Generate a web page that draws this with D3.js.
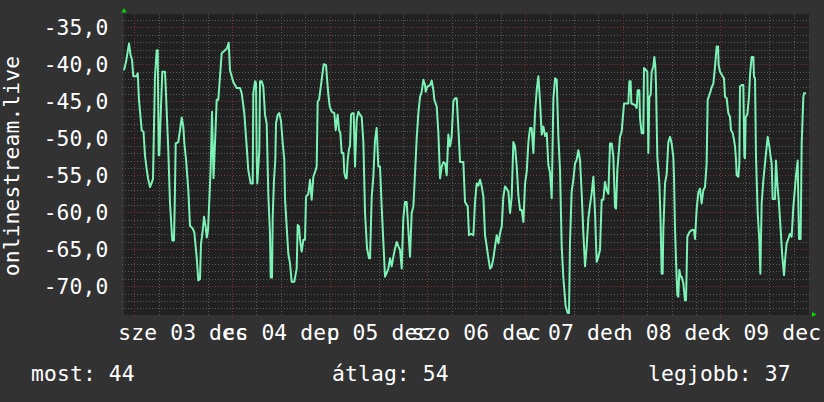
<!DOCTYPE html>
<html>
<head>
<meta charset="utf-8">
<script src="https://cdn.jsdelivr.net/npm/d3@7"></script>
<style>
  html, body { margin: 0; padding: 0; background: #323232; }
  svg { display: block; }
  text { font-family: "DejaVu Sans Mono", monospace; fill: #ffffff; font-size: 21.3px; letter-spacing: 0.15px; }
</style>
</head>
<body>
<svg id="chart" width="824" height="402"></svg>
<script>
// Samples: hours after 3 Dec 2025 00:00 and the measured level
const hours = [
  -2.53,-2.04,-1.30,-0.93,-0.56,-0.25,0.59,0.84,1.15,1.82,2.26,2.63,3.00,3.37,3.86,4.35,4.59,5.08,5.50,5.75,
  5.99,6.14,6.56,6.88,7.54,7.71,8.35,8.77,9.33,9.75,9.92,10.17,10.81,11.23,11.64,12.04,12.28,12.70,13.27,13.68,
  14.35,14.74,15.33,15.72,16.14,16.38,16.80,17.12,17.54,17.79,18.10,18.42,18.77,19.09,19.46,19.95,20.24,20.63,21.05,21.47,
  22.28,22.70,23.19,23.51,24.32,25.15,25.97,26.38,27.02,27.61,28.00,28.59,29.09,29.23,29.65,29.90,30.07,30.21,30.71,30.88,
  31.30,31.69,32.11,32.52,32.92,33.33,33.51,33.83,34.00,34.32,34.64,34.81,35.23,35.62,36.04,36.45,36.85,37.02,37.44,37.83,
  38.25,38.67,39.30,39.89,40.14,40.46,40.71,41.12,41.53,41.94,42.18,42.76,43.16,43.57,43.98,44.56,44.80,45.05,45.38,45.70,
  46.03,46.52,47.10,47.34,47.67,48.00,48.49,49.14,49.47,49.96,50.29,50.62,50.95,51.36,51.60,51.93,52.17,52.42,52.75,52.99,
  53.24,53.56,53.89,54.22,54.63,55.04,55.45,55.86,56.27,56.68,57.17,57.66,57.91,58.32,58.72,59.13,59.54,59.95,60.36,60.77,
  61.18,61.59,62.00,62.41,62.82,63.23,63.64,64.05,64.46,64.87,65.28,65.69,66.09,66.50,66.91,67.32,67.73,68.14,68.55,68.96,
  69.37,69.78,70.19,70.60,71.01,71.42,71.58,71.99,72.65,73.06,73.47,73.71,74.29,74.70,75.11,75.52,75.93,76.34,76.74,77.15,
  77.56,77.97,78.38,78.79,79.20,79.61,80.02,80.83,81.24,81.90,82.22,82.72,83.29,83.70,84.11,84.52,84.93,85.34,85.75,86.16,
  86.57,86.98,87.39,87.80,88.21,88.62,89.03,89.44,89.85,90.26,90.66,91.07,91.48,91.89,92.30,92.71,93.12,93.53,93.94,94.35,
  94.76,95.17,95.58,95.99,96.40,96.81,97.22,97.62,98.03,98.44,98.85,99.26,99.67,100.08,100.49,100.90,101.31,101.72,102.13,102.54,
  102.95,103.36,103.77,104.17,104.58,104.99,105.40,105.97,106.46,106.79,107.03,107.44,107.85,108.26,108.67,109.08,109.49,109.90,110.31,110.72,
  111.13,111.54,111.95,112.36,112.77,113.18,113.58,113.99,114.40,114.81,115.22,115.63,116.04,116.45,116.86,117.27,117.68,118.08,118.33,118.66,
  119.31,119.72,120.30,121.36,121.61,121.93,122.10,123.00,123.41,123.65,124.06,124.23,124.64,125.04,125.21,125.70,126.03,126.27,126.52,126.85,
  127.09,127.50,127.75,127.99,128.16,128.48,128.98,129.30,129.55,129.79,129.96,130.37,130.78,131.19,131.60,132.00,132.41,132.58,132.82,133.07,
  133.40,133.64,133.89,134.22,134.46,134.87,135.28,135.53,135.85,136.34,136.92,137.49,137.74,138.15,138.56,138.96,139.37,139.78,140.19,140.60,
  140.85,141.42,141.83,142.24,142.65,143.06,143.39,143.55,143.88,144.53,144.86,145.11,145.52,145.92,146.33,146.58,146.99,147.32,147.56,147.81,
  147.97,148.38,148.63,148.79,149.20,149.61,149.86,150.02,150.18,150.59,151.00,151.25,151.66,152.07,152.23,152.48,152.72,153.13,153.54,153.79,
  154.11,154.52,154.93,155.18,155.59,156.00,156.32,156.57,156.82,157.39,157.63,157.96,158.37,158.78,159.19,159.60,159.93,160.25,160.66,161.07,
  161.48,161.89,162.55,162.96,163.28,163.69,163.94,164.35,164.51,165.00
];
const values = [
  -40.8,-39.7,-37.2,-38.7,-39.4,-41.6,-41.6,-41.2,-44.8,-48.9,-49.1,-52.3,-54.0,-55.4,-56.6,-55.9,-55.5,-41.7,-38.1,-38.1,
  -52.3,-52.3,-45.7,-41.0,-41.0,-43.0,-51.6,-58.8,-63.8,-63.8,-59.3,-50.7,-50.5,-48.9,-47.2,-48.4,-50.6,-52.8,-57.0,-61.8,
  -62.2,-62.7,-66.1,-69.2,-69.0,-64.3,-62.5,-60.6,-62.0,-63.4,-62.5,-58.5,-54.0,-46.4,-55.4,-49.0,-44.8,-44.8,-41.7,-38.5,
  -38.1,-37.9,-37.1,-40.8,-42.4,-43.2,-43.2,-43.9,-46.6,-51.1,-54.3,-56.1,-56.1,-43.9,-42.3,-42.5,-52.9,-56.1,-51.6,-42.3,
  -42.3,-43.0,-46.8,-48.0,-57.5,-62.9,-68.8,-68.8,-60.6,-55.6,-52.9,-48.0,-46.8,-46.6,-47.7,-50.6,-52.9,-58.2,-62.0,-65.6,
  -66.9,-69.4,-69.4,-67.6,-61.7,-61.9,-63.7,-65.3,-63.7,-63.7,-57.9,-57.5,-55.6,-58.3,-55.2,-54.3,-53.8,-45.0,-44.8,-43.5,
  -42.1,-40.0,-40.1,-41.9,-44.1,-45.7,-46.4,-46.6,-48.9,-46.8,-48.9,-49.3,-52.0,-52.0,-54.7,-55.4,-55.4,-52.9,-51.4,-51.1,
  -46.8,-46.6,-46.6,-53.8,-47.5,-46.4,-46.8,-47.1,-50.5,-60.1,-64.9,-66.2,-66.2,-57.9,-55.2,-50.2,-48.6,-53.8,-53.8,-59.2,
  -64.0,-68.7,-68.2,-67.6,-66.2,-67.3,-66.0,-64.9,-64.0,-64.6,-65.1,-67.6,-60.8,-58.6,-58.6,-62.4,-66.0,-60.1,-59.2,-54.7,
  -50.0,-46.6,-44.4,-43.7,-42.1,-42.8,-43.7,-43.0,-42.8,-42.2,-43.5,-44.8,-45.7,-49.3,-55.4,-53.8,-53.2,-53.4,-55.0,-49.5,
  -51.1,-49.7,-45.0,-44.6,-44.6,-48.6,-53.2,-53.2,-58.6,-59.2,-63.1,-62.9,-63.1,-58.6,-56.1,-56.4,-55.6,-56.5,-57.9,-63.1,
  -64.6,-66.2,-67.6,-67.3,-66.2,-64.6,-63.1,-64.2,-62.8,-61.9,-57.9,-56.5,-56.8,-57.2,-60.1,-57.9,-50.5,-51.1,-53.8,-57.7,
  -59.7,-59.7,-61.3,-56.1,-54.5,-50.5,-48.6,-48.6,-52.0,-46.6,-43.5,-41.6,-45.0,-49.5,-48.4,-49.7,-49.3,-53.6,-54.7,-58.1,
  -44.6,-41.9,-42.1,-49.7,-54.3,-64.6,-68.9,-72.7,-73.6,-73.6,-64.0,-57.2,-55.6,-53.4,-52.9,-51.6,-52.9,-57.4,-62.8,-67.3,
  -64.6,-60.8,-59.0,-57.4,-55.2,-60.1,-66.7,-66.0,-65.1,-58.3,-58.3,-55.9,-57.0,-57.5,-50.7,-50.7,-52.5,-59.3,-59.5,-54.3,
  -49.8,-49.1,-45.3,-45.3,-42.3,-42.3,-45.3,-45.5,-45.9,-43.5,-43.5,-47.3,-49.3,-49.3,-40.5,-40.8,-41.0,-52.0,-44.4,-44.1,
  -41.0,-40.3,-39.0,-40.3,-42.8,-52.5,-56.1,-61.5,-68.3,-68.3,-62.4,-56.1,-54.8,-50.5,-49.8,-50.7,-52.5,-55.2,-62.0,-66.5,
  -71.2,-71.4,-67.8,-68.7,-68.7,-69.6,-71.9,-71.9,-63.3,-62.7,-62.4,-62.4,-63.6,-59.5,-57.3,-56.8,-58.8,-57.0,-56.6,-53.4,
  -44.8,-43.9,-43.1,-42.6,-40.3,-37.6,-37.6,-40.1,-41.0,-41.6,-41.9,-44.4,-44.6,-46.6,-47.1,-48.9,-49.3,-50.2,-51.1,-52.9,
  -55.0,-55.2,-53.4,-43.0,-42.8,-42.8,-52.5,-52.7,-47.1,-46.8,-44.4,-41.4,-39.0,-39.0,-41.7,-41.9,-52.5,-60.0,-63.8,-68.3,
  -58.8,-55.7,-53.4,-52.0,-49.8,-51.1,-52.5,-53.4,-58.2,-58.2,-53.0,-56.1,-58.8,-62.4,-66.0,-68.5,-66.0,-64.2,-63.6,-62.9,
  -63.3,-59.3,-55.0,-53.0,-63.6,-63.6,-50.7,-44.4,-43.9,-43.9
];

// Footer statistics (current, average, best), shown as magnitudes
const summaryNames = ["most", "átlag", "legjobb"];
const averageValue = -54;

// Hungarian calendar names used for the time labels
const dayNames = ["vasárnap", "hétfő", "kedd", "szerda", "csütörtök", "péntek", "szombat"];
const dayAbbr = ["v", "h", "k", "sze", "cs", "p", "szo"];
const monthNames = ["január", "február", "március", "április", "május", "június", "július", "augusztus", "szeptember", "október", "november", "december"];
const monthAbbr = ["jan", "febr", "márc", "ápr", "máj", "jún", "júl", "aug", "szept", "okt", "nov", "dec"];

const yTitle = "onlinestream.live";
const yDomain = [-73.88, -33.2];
const hourDomain = [-2.53, 165.74];

const t0 = Date.UTC(2025, 11, 3);
const toDate = h => new Date(t0 + h * 3600e3);
const data = hours.map((h, i) => ({ t: toDate(h), v: values[i] }));

const huTime = d3.timeFormatLocale({
  dateTime: "%Y. %B %-e., %A %X", date: "%Y. %m. %d.", time: "%H:%M:%S", periods: ["de.", "du."],
  days: dayNames, shortDays: dayAbbr, months: monthNames, shortMonths: monthAbbr
});
const huNum = d3.formatLocale({ decimal: ",", thousands: " ", grouping: [3], currency: ["", " Ft"], minus: "-" });
const fmtY = huNum.format(".1f");
const fmtX = huTime.utcFormat("%a %d %b");

const plot = { left: 124, top: 14, right: 809, bottom: 315 };
const svg = d3.select("#chart");

svg.append("rect").attr("width", 824).attr("height", 402).attr("fill", "#323232");
svg.append("rect")
  .attr("x", plot.left).attr("y", plot.top)
  .attr("width", plot.right - plot.left).attr("height", plot.bottom - plot.top)
  .attr("fill", "#212121");

const x = d3.scaleUtc().domain(hourDomain.map(toDate)).range([plot.left, plot.right]);
const y = d3.scaleLinear().domain(yDomain).range([plot.bottom, plot.top]);

const minorCol = "#5a5a5a", majorCol = "#7a3434";
const grid = svg.append("g").attr("shape-rendering", "crispEdges");

// horizontal grid: every unit, stronger every 5
const yMinor = d3.range(Math.ceil(yDomain[0]), Math.floor(yDomain[1]) + 1);
grid.selectAll("line.hy").data(yMinor).join("line")
  .attr("x1", plot.left - 2).attr("x2", plot.right + 2)
  .attr("y1", d => Math.round(y(d)) + 0.5).attr("y2", d => Math.round(y(d)) + 0.5)
  .attr("stroke", d => d % 5 === 0 ? majorCol : minorCol)
  .attr("stroke-width", 1).attr("stroke-dasharray", "1,2");

// vertical grid: every 6 hours, stronger at midnight
const xMinor = d3.utcHour.every(6).range(x.domain()[0], x.domain()[1]);
grid.selectAll("line.vx").data(xMinor).join("line")
  .attr("x1", d => Math.round(x(d)) + 0.5).attr("x2", d => Math.round(x(d)) + 0.5)
  .attr("y1", plot.top).attr("y2", d => plot.bottom + (d.getUTCHours() === 0 ? 3 : 2))
  .attr("stroke", d => d.getUTCHours() === 0 ? majorCol : minorCol)
  .attr("stroke-width", 1).attr("stroke-dasharray", "1,2");

// y tick labels
const yMajor = yMinor.filter(d => d % 5 === 0);
svg.selectAll("text.ylab").data(yMajor).join("text")
  .attr("x", 108.5).attr("y", d => y(d) + 7.6)
  .attr("text-anchor", "end")
  .text(d => fmtY(d));

// x labels centred on noon of each day
const noons = d3.utcDay.range(x.domain()[0], x.domain()[1])
  .map(d => d3.utcHour.offset(d, 12))
  .filter(d => d >= x.domain()[0] && d <= x.domain()[1]);
svg.selectAll("text.xlab").data(noons).join("text")
  .attr("x", d => x(d)).attr("y", 340)
  .attr("text-anchor", "middle")
  .text(d => fmtX(d));

// axis title
svg.append("text")
  .attr("transform", "translate(19,166) rotate(-90)")
  .attr("text-anchor", "middle")
  .text(yTitle);

// series line
svg.append("path")
  .datum(data)
  .attr("fill", "none")
  .attr("stroke", "#7cf2b6")
  .attr("stroke-width", 2)
  .attr("stroke-linejoin", "round")
  .attr("d", d3.line().x(d => x(d.t)).y(d => y(d.v)));

// axis arrows
const arrowCol = "#00dd00";
svg.append("path").attr("fill", arrowCol)
  .attr("d", `M${plot.left - 2.5},${plot.top - 1.5}L${plot.left + 2.5},${plot.top - 1.5}L${plot.left},${plot.top - 6}Z`);
svg.append("path").attr("fill", arrowCol)
  .attr("d", `M${plot.right + 3},${plot.bottom - 3}L${plot.right + 3},${plot.bottom + 2}L${plot.right + 7.5},${plot.bottom - 0.5}Z`);

// footer statistics
const last = values[values.length - 1];
const best = d3.max(values);
const stats = [Math.round(-last), Math.round(-averageValue), Math.round(-best)];
const statX = [31, 332, 648];
svg.selectAll("text.stat").data(summaryNames).join("text")
  .attr("x", (d, i) => statX[i]).attr("y", 381)
  .text((d, i) => `${d}: ${stats[i]}`);
</script>
</body>
</html>
